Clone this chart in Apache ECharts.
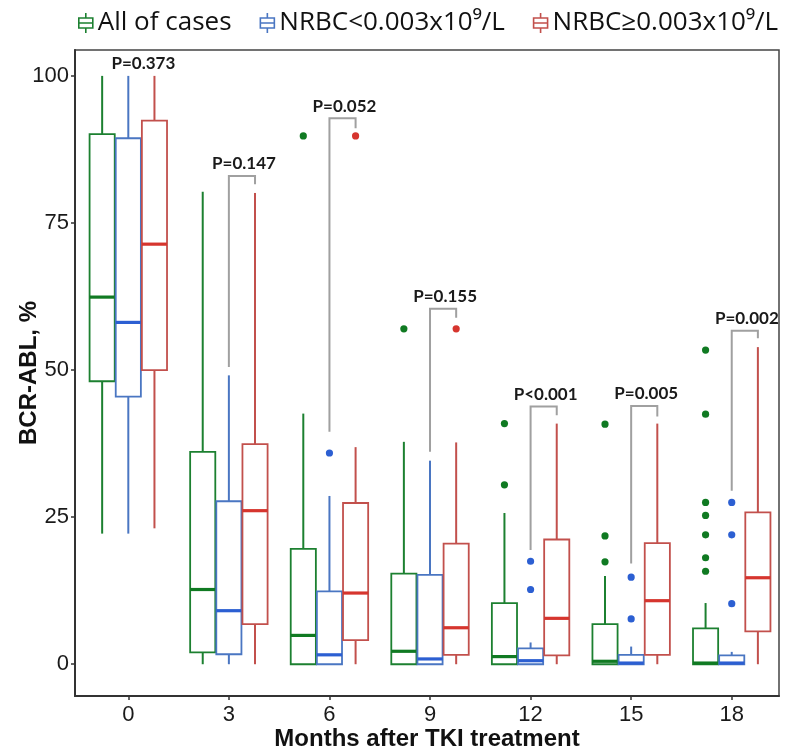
<!DOCTYPE html>
<html><head><meta charset="utf-8">
<script src="https://cdn.jsdelivr.net/npm/echarts@6/dist/echarts.min.js"></script>
<style>html,body{margin:0;padding:0;background:#fff}#c{width:792px;height:755px}</style>
</head><body><div id="c"></div>
<script>
const months = ['0','3','6','9','12','15','18'];
const groupNames = ['All of cases', 'NRBC<0.003x10⁹/L', 'NRBC≥0.003x10⁹/L'];
// [low whisker, Q1, median, Q3, high whisker] per month
const allCases = [
  [22.2, 48.1, 62.4, 90.1, 100],
  [0, 2.0, 12.7, 36.1, 80.3],
  [0, 0, 4.9, 19.6, 42.6],
  [0, 0, 2.2, 15.4, 37.8],
  [0, 0, 1.3, 10.4, 25.7],
  [0, 0, 0.5, 6.8, 15.0],
  [0, 0, 0.2, 6.1, 10.4]
];
const nrbcLow = [
  [22.2, 45.5, 58.1, 89.4, 100],
  [0, 1.7, 9.1, 27.7, 49.1],
  [0, 0, 1.6, 12.4, 28.6],
  [0, 0, 0.9, 15.2, 34.6],
  [0, 0, 0.6, 2.7, 3.7],
  [0, 0, 0.2, 1.6, 3.0],
  [0, 0, 0.2, 1.5, 2.1]
];
const nrbcHigh = [
  [23.1, 50.0, 71.4, 92.4, 100],
  [0, 6.8, 26.1, 37.4, 80.1],
  [0, 4.1, 12.1, 27.4, 36.9],
  [0, 1.6, 6.2, 20.5, 37.7],
  [0, 1.5, 7.8, 21.2, 40.9],
  [0, 1.6, 10.8, 20.6, 40.9],
  [0, 5.6, 14.7, 25.8, 53.9]
];
const allOutliers = [[], [], [89.8], [57.0], [40.9, 30.5], [40.8, 21.8, 17.4], [53.4, 42.5, 27.5, 25.3, 22.0, 18.1, 15.8]];
const lowOutliers = [[], [], [35.9], [], [17.5, 12.7], [14.8, 7.7], [27.5, 22.0, 10.3]];
const highOutliers = [[], [], [89.8], [57.0], [], [], []];
const pValues = ['P=0.373', 'P=0.147', 'P=0.052', 'P=0.155', 'P<0.001', 'P=0.005', 'P=0.002'];
// annotation level (bracket top), and leg ends of bracket (null = no bracket)
const pLevel = [100, 83.0, 92.8, 60.4, 43.8, 43.9, 56.7];
const legLeft = [null, 50.5, 39.5, 36.1, 19.4, 17.1, 29.5];
const legRight = [null, 81.6, 91.1, 58.9, 42.3, 42.1, 55.4];
const yTicks = [0, 25, 50, 75, 100];

const boxColors = ['#1c8030', '#4a76c2', '#c2504c'];
const medColors = ['#107a22', '#2c5fd2', '#d6352e'];
const OFFS = [-0.26, 0, 0.26];
const HALF = 0.125;

function boxRender(gi) {
  return function (params, api) {
    const xc = api.value(0) + OFFS[gi];
    const X = api.coord([xc, 0])[0];
    const xl = api.coord([xc - HALF, 0])[0];
    const xr = api.coord([xc + HALF, 0])[0];
    const yLow = api.coord([xc, api.value(1)])[1];
    const yQ1 = api.coord([xc, api.value(2)])[1];
    const yMed = api.coord([xc, api.value(3)])[1];
    const yQ3 = api.coord([xc, api.value(4)])[1];
    const yHigh = api.coord([xc, api.value(5)])[1];
    const c = boxColors[gi];
    return {
      type: 'group',
      children: [
        { type: 'line', shape: { x1: X, y1: yLow, x2: X, y2: yQ1 }, style: { stroke: c, lineWidth: 2 } },
        { type: 'line', shape: { x1: X, y1: yQ3, x2: X, y2: yHigh }, style: { stroke: c, lineWidth: 2 } },
        { type: 'rect', shape: { x: xl, y: yQ3, width: xr - xl, height: yQ1 - yQ3 }, style: { fill: 'rgba(255,255,255,0)', stroke: c, lineWidth: 1.8 } },
        { type: 'line', shape: { x1: xl, y1: yMed, x2: xr, y2: yMed }, style: { stroke: medColors[gi], lineWidth: 3.2 } }
      ]
    };
  };
}
function outlierRender(gi) {
  return function (params, api) {
    const p = api.coord([api.value(0) + OFFS[gi], api.value(1)]);
    return { type: 'circle', shape: { cx: p[0], cy: p[1], r: 3.6 }, style: { fill: medColors[gi] } };
  };
}
function toBoxData(arr) { return arr.map((d, i) => [i].concat(d)); }
function toOutData(arr) { const out = []; arr.forEach((list, i) => list.forEach(v => out.push([i, v]))); return out; }

const groups = [allCases, nrbcLow, nrbcHigh];
const outs = [allOutliers, lowOutliers, highOutliers];
const series = [];
groups.forEach((g, gi) => {
  series.push({ name: groupNames[gi], type: 'custom', renderItem: boxRender(gi), data: toBoxData(g),
    encode: { x: 0, y: [1, 2, 3, 4, 5] }, itemStyle: { color: boxColors[gi] }, z: 2 });
});
outs.forEach((o, gi) => {
  series.push({ name: groupNames[gi], type: 'custom', renderItem: outlierRender(gi), data: toOutData(o),
    encode: { x: 0, y: 1 }, itemStyle: { color: boxColors[gi] }, z: 3 });
});
series.push({
  name: 'pvalue', type: 'custom', z: 4,
  data: months.map((m, i) => [i, pLevel[i], legLeft[i] == null ? NaN : legLeft[i], legRight[i] == null ? NaN : legRight[i]]),
  encode: { x: 0, y: 1 },
  renderItem: function (params, api) {
    const i = api.value(0);
    const xa = api.coord([i + OFFS[1], 0])[0];
    const xb = api.coord([i + OFFS[2], 0])[0];
    const yt = api.coord([i, api.value(1)])[1];
    const children = [];
    const hasBracket = !isNaN(api.value(2));
    if (hasBracket) {
      const yl = api.coord([i, api.value(2)])[1];
      const yr = api.coord([i, api.value(3)])[1];
      children.push({ type: 'polyline', shape: { points: [[xa, yl], [xa, yt], [xb, yt], [xb, yr]] },
        style: { stroke: '#a0a0a0', lineWidth: 2, fill: null } });
    }
    children.push({ type: 'text', style: { text: pValues[i], x: (xa + xb) / 2 + 2, y: yt - 12,
      textAlign: 'center', textVerticalAlign: 'middle', fill: '#1a1a1a',
      font: 'bold 17px Lato, "Open Sans", sans-serif' } });
    return { type: 'group', children: children };
  }
});

const chart = echarts.init(document.getElementById('c'), null, { renderer: 'canvas' });
chart.setOption({
  backgroundColor: '#fff',
  animation: false,
  legend: {
    data: groupNames.map((n, gi) => ({ name: n, itemStyle: { color: '#fff', borderColor: boxColors[gi], borderWidth: 1.6 } })),
    icon: 'path://M7,0V5M0,5H14V15H0ZM0,10H14M7,15V20',
    itemWidth: 14, itemHeight: 20, itemGap: 28,
    left: 73, top: 5,
    textStyle: { fontSize: 26, fontFamily: '"Open Sans", sans-serif', color: '#111' }
  },
  grid: { left: 75, right: 13, top: 50, bottom: 59, show: true, borderColor: '#444', borderWidth: 1.5,
    containLabel: false, outerBoundsMode: 'none' },
  xAxis: {
    type: 'value', min: -0.53, max: 6.47,
    name: 'Months after TKI treatment', nameLocation: 'middle', nameGap: 31, nameMoveOverlap: false,
    nameTextStyle: { fontSize: 24, fontWeight: 'bold', fontFamily: '"Liberation Sans", Arial, sans-serif', color: '#111' },
    axisLine: { show: true, onZero: false, lineStyle: { color: '#333', width: 2 } },
    axisTick: { show: true, length: 4, customValues: months.map((m, i) => i), lineStyle: { color: '#333', width: 1.5 } },
    axisLabel: { customValues: months.map((m, i) => i), formatter: v => months[v], fontSize: 22, margin: 8,
      fontFamily: '"Liberation Sans", Arial, sans-serif', color: '#1a1a1a' },
    splitLine: { show: false }
  },
  yAxis: {
    type: 'value', min: -5.4, max: 104.4,
    name: 'BCR-ABL, %', nameLocation: 'middle', nameGap: 34, nameMoveOverlap: false,
    nameTextStyle: { fontSize: 24, fontWeight: 'bold', fontFamily: '"Liberation Sans", Arial, sans-serif', color: '#111' },
    axisLine: { show: true, onZero: false, lineStyle: { color: '#333', width: 2 } },
    axisTick: { show: true, length: 4, customValues: yTicks, lineStyle: { color: '#333', width: 1.5 } },
    axisLabel: { customValues: yTicks, fontSize: 22, margin: 6,
      fontFamily: '"Liberation Sans", Arial, sans-serif', color: '#1a1a1a' },
    splitLine: { show: false }
  },
  series: series
});
</script></body></html>
